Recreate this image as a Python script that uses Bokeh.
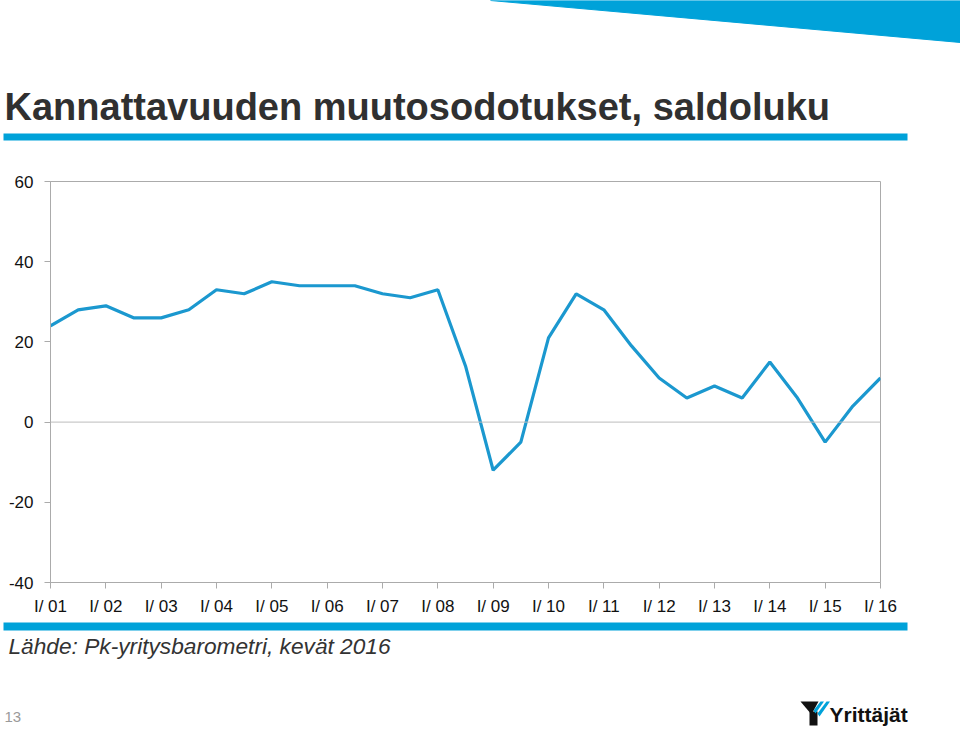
from bokeh.plotting import figure
from bokeh.layouts import column
from bokeh.models import Range1d, FixedTicker, Span
from bokeh.embed import file_html
from bokeh.resources import INLINE
from bokeh.core.properties import value

# ---------------- data ----------------
periods = ["I/01", "II/01", "I/02", "II/02", "I/03", "II/03", "I/04", "II/04",
           "I/05", "II/05", "I/06", "II/06", "I/07", "II/07", "I/08", "II/08",
           "I/09", "II/09", "I/10", "II/10", "I/11", "II/11", "I/12", "II/12",
           "I/13", "II/13", "I/14", "II/14", "I/15", "II/15", "I/16"]
saldoluku = [24, 28, 29, 26, 26, 28, 33, 32, 35, 34, 34, 34, 32, 31, 33, 14,
             -12, -5, 21, 32, 28, 19, 11, 6, 9, 6, 15, 6, -5, 4, 11]
tick_labels = ["I/ 01", "I/ 02", "I/ 03", "I/ 04", "I/ 05", "I/ 06", "I/ 07", "I/ 08",
               "I/ 09", "I/ 10", "I/ 11", "I/ 12", "I/ 13", "I/ 14", "I/ 15", "I/ 16"]
y_ticks = [-40, -20, 0, 20, 40, 60]

title_text = "Kannattavuuden muutosodotukset, saldoluku"
source_text = "Lähde: Pk-yritysbarometri, kevät 2016"
page_number = "13"
logo_text = "Yrittäjät"

BLUE = "#00a2d9"
LINE = "#1b98cf"
GRAY = "#ababab"
FONT = "'Liberation Sans', Arial, sans-serif"

W = 960

def no_align(f):
    try:
        f.frame_align = False
    except Exception:
        pass

def blank(height, y0, y1):
    f = figure(width=W, height=height, x_range=Range1d(0, W), y_range=Range1d(y1, y0),
               output_backend="svg", toolbar_location=None, min_border=0)
    f.axis.visible = False
    f.grid.visible = False
    f.outline_line_color = None
    f.background_fill_color = "white"
    f.border_fill_color = "white"
    no_align(f)
    return f

# ---------------- header ----------------
head = blank(141, 0, 141)
head.patch(x=[490, 960, 960], y=[0, 0, 42], fill_color=BLUE, line_color=BLUE)
head.quad(left=[3], right=[907], top=[133], bottom=[140], fill_color=BLUE, line_color=None)
head.text(x=[4], y=[106], text=[title_text], text_font=value(FONT), text_font_style="bold",
          text_font_size="38px", text_color="#303030", text_baseline="alphabetic")

# ---------------- chart ----------------
xs = list(range(len(periods)))
p = figure(width=W, height=479, x_range=Range1d(0, len(periods) - 1), y_range=Range1d(-40, 60),
           output_backend="svg", toolbar_location=None,
           min_border_left=50, min_border_right=80, min_border_top=40, min_border_bottom=38)
no_align(p)
p.grid.visible = False
p.outline_line_color = GRAY
p.background_fill_color = "white"
p.border_fill_color = "white"

p.add_layout(Span(location=0, dimension="width", line_color="#bdbdbd", line_width=1))
p.line(xs, saldoluku, line_color=LINE, line_width=3.2)

p.xaxis.ticker = FixedTicker(ticks=[2 * i for i in range(len(tick_labels))])
p.xaxis.major_label_overrides = {2 * i: t for i, t in enumerate(tick_labels)}
p.yaxis.ticker = FixedTicker(ticks=y_ticks)
p.yaxis.major_label_overrides = {v: str(v) for v in y_ticks}
for ax in (p.xaxis, p.yaxis):
    ax.axis_line_color = GRAY
    ax.major_tick_line_color = GRAY
    ax.major_tick_in = 0
    ax.major_tick_out = 6
    ax.minor_tick_line_color = None
    ax.major_label_text_font = FONT
    ax.major_label_text_font_size = "17px"
    ax.major_label_text_color = "#111111"
p.xaxis.major_label_standoff = 8
p.yaxis.major_label_standoff = 11

# ---------------- footer ----------------
foot = blank(113, 620, 733)
foot.quad(left=[3], right=[907], top=[622], bottom=[630], fill_color=BLUE, line_color=None)
foot.text(x=[8], y=[645], text=[source_text], text_font=value(FONT), text_font_style="italic",
          text_font_size="22.7px", text_color="#333333", text_baseline="alphabetic")
foot.text(x=[4], y=[716], text=[page_number], text_font=value(FONT),
          text_font_size="15px", text_color="#9a9a9a", text_baseline="alphabetic")
# logo
foot.patch(x=[800, 818, 811], y=[701, 701, 714], fill_color="#111111", line_color=None)
foot.quad(left=[809], right=[817], top=[711], bottom=[725], fill_color="#111111", line_color=None)
foot.patch(x=[820, 823.5, 815, 813], y=[701, 701, 713, 710], fill_color=BLUE, line_color=None)
foot.patch(x=[826, 829.5, 819, 817], y=[701, 701, 716, 713], fill_color=BLUE, line_color=None)
foot.text(x=[829], y=[714], text=[logo_text], text_font=value(FONT), text_font_style="bold",
          text_font_size="21px", text_color="#111111", text_baseline="alphabetic")

layout = column(head, p, foot, spacing=0)
open("out.html", "w").write(file_html(layout, INLINE))
